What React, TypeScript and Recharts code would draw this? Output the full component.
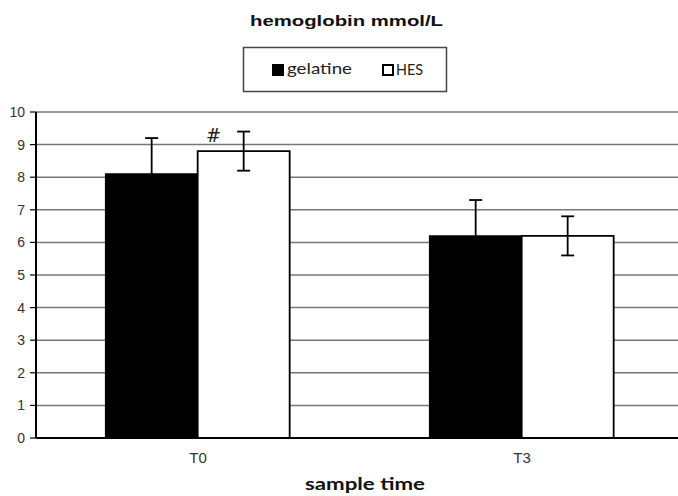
import React from 'react';
import { BarChart, Bar, XAxis, YAxis, CartesianGrid, ErrorBar, LabelList } from 'recharts';

const categories = ['T0', 'T3'];
const gelatine = [8.1, 6.2];
const gelatineErr = [1.1, 1.1];
const hes = [8.8, 6.2];
const hesErr = [0.6, 0.6];
const marks = ['#', ''];
const yTicks = [0, 1, 2, 3, 4, 5, 6, 7, 8, 9, 10];

const data = categories.map((c, i) => ({
    name: c,
    gelatine: gelatine[i],
    gelatineErr: gelatineErr[i],
    hes: hes[i],
    hesErr: hesErr[i],
    mark: marks[i],
}));

// the "#" sits a little left of the HES bar's centre
const MarkLabel = (props: any) => {
    const { x, y, value } = props;
    if (!value) return null;
    return (
        <text x={x + 16} y={y - 9} fontSize={18} fontFamily="DejaVu Serif" fill="#222" textAnchor="middle">
            {value}
        </text>
    );
};

const App: React.FC = () => (
    <div style={{ position: 'absolute', left: 0, top: 0, width: 678, height: 496, overflow: 'hidden', background: '#fff' }}>
        <BarChart
            width={684}
            height={496}
            data={data}
            margin={{ top: 112, right: 0, bottom: 0, left: 0 }}
            barCategoryGap="21.5%"
            barGap={0}
        >
            <CartesianGrid vertical={false} stroke="#777" strokeWidth={1.5} />
            <XAxis
                xAxisId="bounds"
                type="number"
                domain={[0, 2]}
                ticks={[1]}
                axisLine={false}
                tick={false}
                tickSize={6}
                tickLine={{ stroke: '#000', strokeWidth: 1.5 }}
                height={0}
            />
            <XAxis
                dataKey="name"
                axisLine={{ stroke: '#000', strokeWidth: 2 }}
                tickLine={false}
                tick={{ fontSize: 15, fill: '#333', fontFamily: 'Liberation Sans' }}
                tickMargin={8}
                height={58}
            />
            <YAxis
                domain={[0, 10]}
                ticks={yTicks}
                interval={0}
                width={36}
                axisLine={{ stroke: '#000', strokeWidth: 2 }}
                tickLine={{ stroke: '#000', strokeWidth: 1.2 }}
                tickSize={6}
                tickMargin={5}
                tick={{ fontSize: 14, fill: '#333', fontFamily: 'Liberation Sans' }}
            />
            <Bar dataKey="gelatine" fill="#000" stroke="#000" strokeWidth={1.5} isAnimationActive={false}>
                <ErrorBar dataKey="gelatineErr" stroke="#000" strokeWidth={1.8} width={6.5} direction="y" />
            </Bar>
            <Bar dataKey="hes" fill="#fff" stroke="#000" strokeWidth={1.8} isAnimationActive={false}>
                <ErrorBar dataKey="hesErr" stroke="#000" strokeWidth={1.8} width={6.5} direction="y" />
                <LabelList dataKey="mark" content={MarkLabel} />
            </Bar>
        </BarChart>
        <svg width={678} height={496} style={{ position: 'absolute', left: 0, top: 0, pointerEvents: 'none' }}>
            <text x={250} y={26} fontSize={15} fontWeight="bold" fontFamily="Liberation Sans" fill="#111" textLength={193} lengthAdjust="spacingAndGlyphs">
                hemoglobin mmol/L
            </text>
            <rect x={243.5} y={47.5} width={203} height={44} fill="#fff" stroke="#444" strokeWidth={1.5} />
            <rect x={272} y={64} width={12} height={12} fill="#000" />
            <text x={287} y={74} fontSize={15} fontFamily="Lato" fill="#222" textLength={65} lengthAdjust="spacingAndGlyphs">
                gelatine
            </text>
            <rect x={383} y={65} width={10} height={10} fill="#fff" stroke="#000" strokeWidth={2} />
            <text x={396} y={75} fontSize={15} fontFamily="Lato" fill="#222" textLength={27} lengthAdjust="spacingAndGlyphs">
                HES
            </text>
            <text x={305} y={490} fontSize={17} fontWeight="bold" fontFamily="Lato" fill="#111" textLength={120} lengthAdjust="spacingAndGlyphs">
                sample time
            </text>
        </svg>
    </div>
);

export default App;
